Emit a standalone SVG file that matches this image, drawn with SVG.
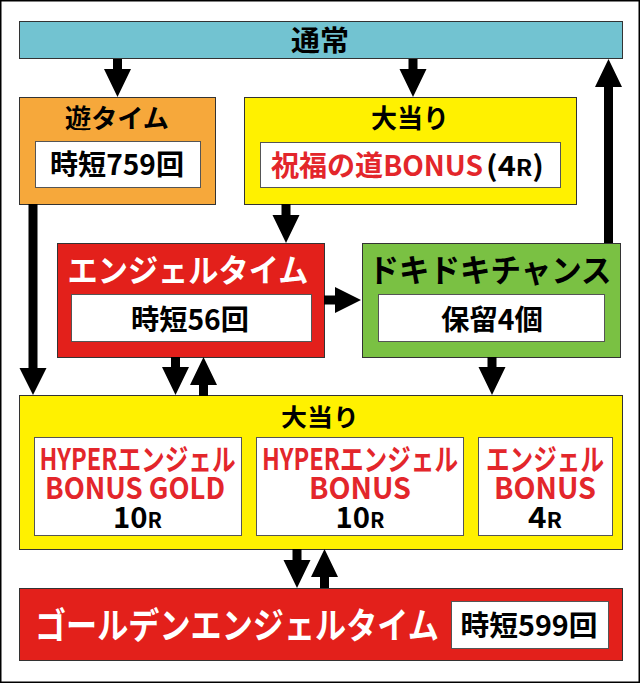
<svg xmlns="http://www.w3.org/2000/svg" width="640" height="683" viewBox="0 0 640 683">
<style>
.t{font-family:"Noto Sans CJK JP","Noto Sans",sans-serif;font-weight:bold;text-anchor:middle}
.bx{stroke:#333;stroke-width:1}
.in{fill:#fff;stroke:#555;stroke-width:1}
.k{fill:#000}
.w{fill:#fff}
.r{fill:#e3262b}
.arr{fill:#000}
</style>
<rect x="0.75" y="0.75" width="638.5" height="681.5" fill="#fff" stroke="#000" stroke-width="1.5"/>
<g id="tsujo">
<rect class="bx" x="19.5" y="21.5" width="603" height="37" fill="#72c3d1"/>
<text class="t k" x="320" y="51" font-size="28" textLength="58" lengthAdjust="spacingAndGlyphs">通常</text>
</g>
<g id="yu-time">
<rect class="bx" x="19.5" y="97.5" width="196" height="107" fill="#f6a83b"/>
<text class="t k" x="117" y="128" font-size="26" textLength="104" lengthAdjust="spacingAndGlyphs">遊タイム</text>
<rect class="in" x="35.5" y="141.5" width="165" height="46"/>
<text class="t k" x="117" y="175" font-size="28" textLength="134" lengthAdjust="spacingAndGlyphs">時短759回</text>
</g>
<g id="oatari-top">
<rect class="bx" x="244.5" y="97.5" width="332" height="107" fill="#fff100"/>
<text class="t k" x="410" y="128" font-size="26" textLength="78" lengthAdjust="spacingAndGlyphs">大当り</text>
<rect class="in" x="260.5" y="142.5" width="300" height="45"/>
<text class="t r" x="377" y="176" font-size="28" textLength="212" lengthAdjust="spacingAndGlyphs">祝福の道BONUS</text>
<text class="t k" x="515" y="176" font-size="28" textLength="58" lengthAdjust="spacingAndGlyphs">(4<tspan font-size="22">R</tspan>)</text>
</g>
<g id="angel-time">
<rect class="bx" x="57.5" y="243.5" width="267" height="114" fill="#e3201b"/>
<text class="t w" x="188" y="282" font-size="32" textLength="241" lengthAdjust="spacingAndGlyphs">エンジェルタイム</text>
<rect class="in" x="71.5" y="294.5" width="240" height="47"/>
<text class="t k" x="190" y="330" font-size="28" textLength="118" lengthAdjust="spacingAndGlyphs">時短56回</text>
</g>
<g id="dokidoki">
<rect class="bx" x="362.5" y="243.5" width="258" height="114" fill="#7ac143"/>
<text class="t k" x="490" y="282" font-size="32" textLength="243" lengthAdjust="spacingAndGlyphs">ドキドキチャンス</text>
<rect class="in" x="378.5" y="294.5" width="226" height="47"/>
<text class="t k" x="492" y="330" font-size="28" textLength="102" lengthAdjust="spacingAndGlyphs">保留4個</text>
</g>
<g id="oatari-main">
<rect class="bx" x="19.5" y="395.5" width="603" height="154" fill="#fff100"/>
<text class="t k" x="320" y="426" font-size="24" textLength="78" lengthAdjust="spacingAndGlyphs">大当り</text>
<g id="hyper-gold">
<rect class="in" x="34.5" y="437.5" width="207" height="98"/>
<text class="t r" x="137.5" y="470" font-size="30" textLength="196" lengthAdjust="spacingAndGlyphs">HYPERエンジェル</text>
<text class="t r" x="135" y="499" font-size="30" textLength="180" lengthAdjust="spacingAndGlyphs">BONUS GOLD</text>
<text class="t k" x="137.5" y="528" font-size="29" textLength="49" lengthAdjust="spacingAndGlyphs">10<tspan font-size="21">R</tspan></text>
</g>
<g id="hyper">
<rect class="in" x="256.5" y="437.5" width="207" height="98"/>
<text class="t r" x="360" y="470" font-size="30" textLength="196" lengthAdjust="spacingAndGlyphs">HYPERエンジェル</text>
<text class="t r" x="360" y="499" font-size="30" textLength="102" lengthAdjust="spacingAndGlyphs">BONUS</text>
<text class="t k" x="360" y="528" font-size="29" textLength="49" lengthAdjust="spacingAndGlyphs">10<tspan font-size="21">R</tspan></text>
</g>
<g id="angel-bonus">
<rect class="in" x="478.5" y="437.5" width="134" height="98"/>
<text class="t r" x="545" y="470" font-size="30" textLength="118" lengthAdjust="spacingAndGlyphs">エンジェル</text>
<text class="t r" x="545" y="499" font-size="30" textLength="102" lengthAdjust="spacingAndGlyphs">BONUS</text>
<text class="t k" x="545" y="528" font-size="29" textLength="34" lengthAdjust="spacingAndGlyphs">4<tspan font-size="21">R</tspan></text>
</g>
</g>
<g id="golden">
<rect class="bx" x="19.5" y="588.5" width="603" height="72" fill="#e3201b"/>
<text class="t w" x="237" y="639" font-size="36" textLength="404" lengthAdjust="spacingAndGlyphs">ゴールデンエンジェルタイム</text>
<rect class="in" x="451.5" y="601.5" width="157" height="47"/>
<text class="t k" x="529" y="636" font-size="28" textLength="137" lengthAdjust="spacingAndGlyphs">時短599回</text>
</g>
<g id="connectors" class="arr">
<path d="M113 59H122V69H131L117.5 97L104 69H113Z"/>
<path d="M408.5 59H417.5V69H426.5L413 97L399.5 69H408.5Z"/>
<path d="M604 243V87H595L608.5 59L622 87H613V243Z"/>
<path d="M281.5 204H290.5V215H299.5L286 243L272.5 215H281.5Z"/>
<path d="M28.5 204H37.5V368H46.5L33 395L19.5 368H28.5Z"/>
<path d="M324 295.5H335V287L361 300L335 313V304.5H324Z"/>
<path d="M171 357H180V367H189L175.5 395L162 367H171Z"/>
<path d="M199 396V385H190L203.5 357L217 385H208V396Z"/>
<path d="M487.5 357H496.5V367H505.5L492 395L478.5 367H487.5Z"/>
<path d="M292.5 549H301.5V560H310.5L297 588L283.5 560H292.5Z"/>
<path d="M320 588V577H311L324.5 549L338 577H329V588Z"/>
</g>
</svg>
